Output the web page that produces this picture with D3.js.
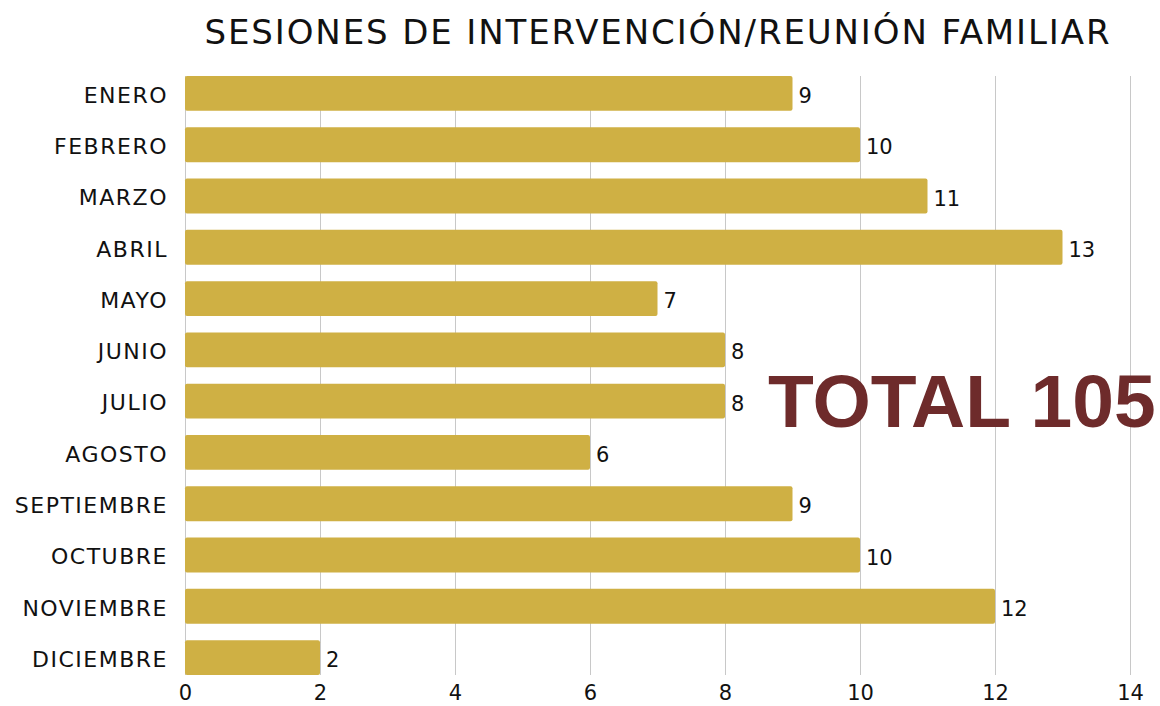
<!DOCTYPE html>
<html>
<head>
<meta charset="utf-8">
<script src="https://cdn.jsdelivr.net/npm/d3@7"></script>
<style>
  body { margin: 0; background: #fff; }
  text { font-family: "DejaVu Sans", sans-serif; fill: #111; }
</style>
</head>
<body>
<svg width="1160" height="706"></svg>
<script>
var months = ["ENERO", "FEBRERO", "MARZO", "ABRIL", "MAYO", "JUNIO", "JULIO",
    "AGOSTO", "SEPTIEMBRE", "OCTUBRE", "NOVIEMBRE", "DICIEMBRE"];
var sessions = [9, 10, 11, 13, 7, 8, 8, 6, 9, 10, 12, 2];
var xTicks = [0, 2, 4, 6, 8, 10, 12, 14];
var title = "SESIONES DE INTERVENCIÓN/REUNIÓN FAMILIAR";
var totalLabel = "TOTAL 105";

var svg = d3.select("svg");
var plotLeft = 185, plotRight = 1130, plotTop = 76, plotBottom = 675;

var x = d3.scaleLinear().domain([0, 14]).range([plotLeft, plotRight]);
var y = d3.scaleBand().domain(months).range([plotTop, plotBottom])
    .paddingInner(0.32).paddingOuter(0);

// gridlines
svg.append("g")
    .selectAll("line")
    .data(xTicks)
    .enter().append("line")
    .attr("x1", function (d) { return x(d) + 0.5; })
    .attr("x2", function (d) { return x(d) + 0.5; })
    .attr("y1", plotTop)
    .attr("y2", plotBottom)
    .style("stroke", "#c8c8c8")
    .style("stroke-width", "1px");

// bars
svg.append("g")
    .selectAll("rect")
    .data(sessions)
    .enter().append("rect")
    .attr("x", x(0))
    .attr("y", function (d, i) { return y(months[i]); })
    .attr("width", function (d) { return x(d) - x(0); })
    .attr("height", y.bandwidth())
    .attr("rx", 2)
    .style("fill", "#cfb044");

// value labels
svg.append("g")
    .selectAll("text")
    .data(sessions)
    .enter().append("text")
    .attr("x", function (d) { return x(d) + 6; })
    .attr("y", function (d, i) { return y(months[i]) + y.bandwidth() / 2 + 2; })
    .attr("dy", "0.36em")
    .style("font-size", "21px")
    .text(function (d) { return d; });

// category axis
var yAxis = svg.append("g")
    .attr("transform", "translate(" + plotLeft + ",0)")
    .call(d3.axisLeft(y).tickSize(0).tickPadding(17));
yAxis.select(".domain").remove();
yAxis.selectAll("text")
    .attr("dy", "0.42em")
    .style("font-size", "22px")
    .style("letter-spacing", "1.5px")
    .style("font-family", "DejaVu Sans, sans-serif")
    .attr("fill", "#111");

// value axis
var xAxis = svg.append("g")
    .attr("transform", "translate(0," + plotBottom + ")")
    .call(d3.axisBottom(x).tickValues(xTicks).tickSize(0).tickPadding(10));
xAxis.select(".domain").remove();
xAxis.selectAll("text")
    .style("font-size", "21px")
    .style("font-family", "DejaVu Sans, sans-serif")
    .attr("fill", "#111");

// title
svg.append("text")
    .attr("x", 657)
    .attr("y", 44)
    .attr("text-anchor", "middle")
    .attr("textLength", 905)
    .attr("lengthAdjust", "spacing")
    .style("font-size", "34px")
    .text(title);

// total
svg.append("text")
    .attr("x", 768)
    .attr("y", 427)
    .style("font-family", "Liberation Sans, Arial, sans-serif")
    .style("font-weight", "bold")
    .style("font-size", "75px")
    .style("fill", "#6e2b2b")
    .text(totalLabel);
</script>
</body>
</html>
